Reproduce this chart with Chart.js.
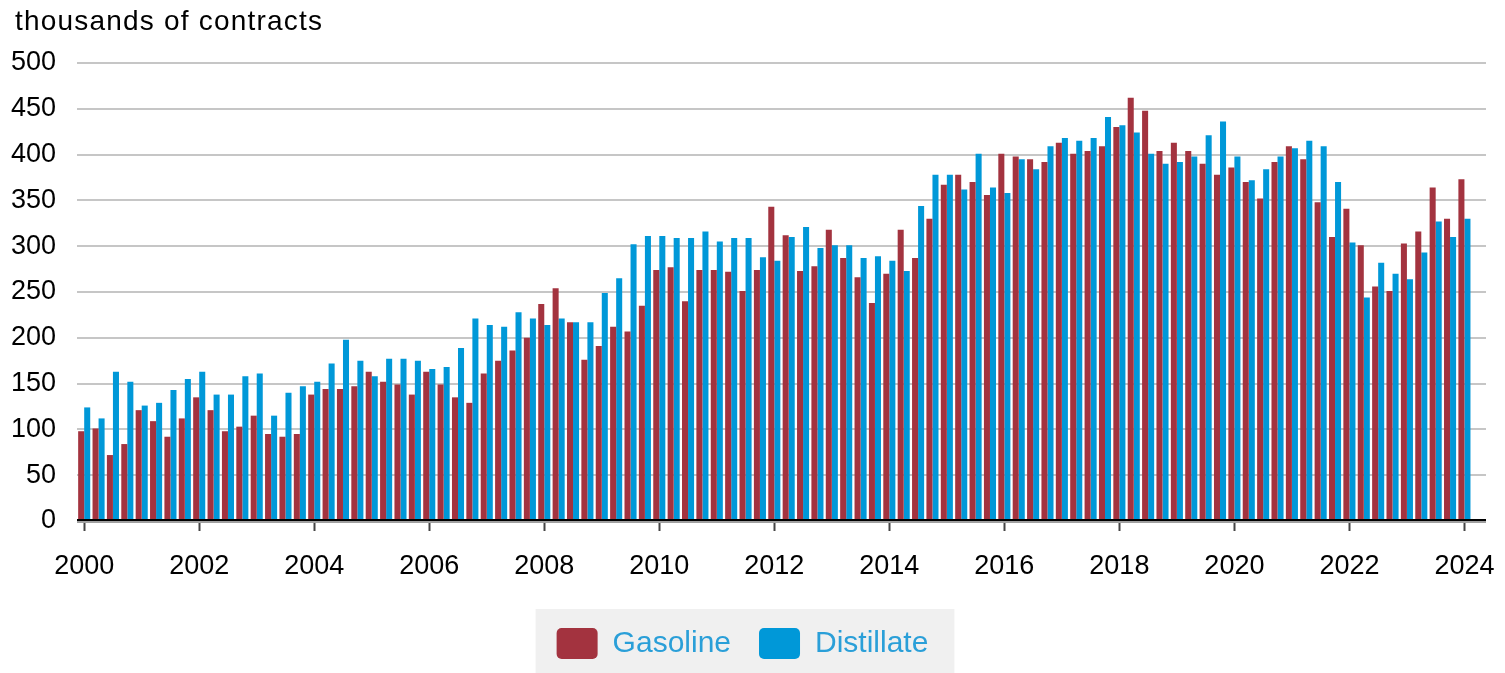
<!DOCTYPE html>
<html>
<head>
<meta charset="utf-8">
<script src="https://cdn.jsdelivr.net/npm/chart.js@4.4.1/dist/chart.umd.min.js"></script>
<style>
  html, body { margin: 0; padding: 0; background: #ffffff; overflow: hidden; }
  #wrap { position: relative; width: 1505px; height: 673px; }
  #title { position: absolute; left: 15px; top: 7px; font-family: "Liberation Sans", Arial, sans-serif; font-size: 28px; line-height: 28px; letter-spacing: 1.2px; color: #000; white-space: nowrap; }
  canvas { position: absolute; left: 0; top: 0; }
</style>
</head>
<body>
<div id="wrap">
  <canvas id="c" width="1505" height="673"></canvas>
  <div id="title">thousands of contracts</div>
</div>
<script>
// ---- data (quarterly, 2000 Q1 .. 2024 Q1; 2024 Q2 left empty) ----
const years = [2000,2001,2002,2003,2004,2005,2006,2007,2008,2009,2010,2011,2012,2013,2014,2015,2016,2017,2018,2019,2020,2021,2022,2023,2024];
const quarters = ['Q1','Q2','Q3','Q4'];

const gasoline = [
  98, 101, 72, 84,
  121, 109, 92, 112,
  135, 121, 98, 103,
  115, 95, 92, 95,
  138, 144, 144, 147,
  163, 152, 149, 138,
  163, 149, 135, 129,
  161, 175, 186, 200,
  237, 254, 217, 176,
  191, 212, 207, 235,
  274, 277, 240, 274,
  274, 272, 251, 274,
  343, 312, 273, 278,
  318, 287, 266, 238,
  270, 318, 287, 330,
  367, 378, 370, 356,
  401, 398, 395, 392,
  413, 401, 404, 409,
  430, 462, 448, 404,
  413, 404, 390, 378,
  386, 370, 352, 392,
  409, 395, 348, 310,
  341, 301, 256, 251,
  303, 316, 364, 330,
  373, null
];

const distillate = [
  124, 112, 163, 152,
  126, 129, 143, 155,
  163, 138, 138, 158,
  161, 115, 140, 147,
  152, 172, 198, 175,
  158, 177, 177, 175,
  166, 168, 189, 221,
  214, 212, 228, 221,
  214, 221, 217, 217,
  249, 265, 302, 311,
  311, 309, 309, 316,
  305, 309, 309, 288,
  284, 310, 321, 298,
  301, 301, 287, 289,
  284, 273, 344, 378,
  378, 362, 401, 364,
  358, 395, 384, 409,
  418, 415, 418, 441,
  432, 424, 401, 390,
  392, 398, 421, 436,
  398, 372, 384, 398,
  407, 415, 409, 370,
  304, 244, 282, 270,
  264, 293, 327, 310,
  330, null
];

const categories = [];
years.forEach(y => quarters.forEach(q => categories.push(y + ' ' + q)));
categories.length = gasoline.length;

const yTicks = [0, 50, 100, 150, 200, 250, 300, 350, 400, 450, 500];
const xTickYears = [2000,2002,2004,2006,2008,2010,2012,2014,2016,2018,2020,2022,2024];

const FONT = '"Liberation Sans", Arial, sans-serif';
const RED = '#a3333f';
const BLUE = '#0098d8';

function isYearTick(i) {
  const lab = categories[i];
  if (!lab || !lab.endsWith('Q1')) return false;
  return xTickYears.includes(parseInt(lab, 10));
}

const legendShift = {
  id: 'legendShift',
  afterLayout(chart) {
    const lg = chart.legend;
    if (lg) { lg.left -= 6; lg.right -= 6; }
  }
};

const legendBg = {
  id: 'legendBg',
  beforeDraw(chart) {
    const lg = chart.legend;
    if (!lg || !lg.legendHitBoxes || !lg.legendHitBoxes.length) return;
    const hb = lg.legendHitBoxes;
    const first = hb[0], last = hb[hb.length - 1];
    const left = first.left - 21;
    const right = last.left + last.width + 26;
    const top = first.top - 19;
    const ctx = chart.ctx;
    ctx.save();
    ctx.fillStyle = '#f0f0f0';
    ctx.fillRect(left, top, right - left, chart.height - top);
    ctx.restore();
  }
};

const zeroLine = {
  id: 'zeroLine',
  afterDatasetsDraw(chart) {
    const y0 = chart.scales.y.getPixelForValue(0);
    const a = chart.chartArea;
    const ctx = chart.ctx;
    ctx.save();
    ctx.fillStyle = '#a0a0a0';
    ctx.fillRect(a.left, y0, a.right - a.left, 2);
    ctx.fillStyle = '#000000';
    ctx.fillRect(a.left, y0 - 2, a.right - a.left, 2);
    ctx.restore();
  }
};

new Chart(document.getElementById('c'), {
  type: 'bar',
  data: {
    labels: categories,
    datasets: [
      { label: 'Gasoline', data: gasoline, backgroundColor: RED, borderWidth: 0 },
      { label: 'Distillate', data: distillate, backgroundColor: BLUE, borderWidth: 0 }
    ]
  },
  options: {
    responsive: false,
    animation: false,
    devicePixelRatio: 1,
    layout: { padding: { left: 11, right: 19, top: 63, bottom: 4 } },
    datasets: { bar: { categoryPercentage: 0.84, barPercentage: 1.0 } },
    scales: {
      x: {
        offset: true,
        afterFit: s => { s.paddingLeft = 0; s.height -= 1.4; },
        grid: {
          offset: false,
          drawOnChartArea: false,
          drawTicks: true,
          tickLength: 10,
          tickWidth: 2,
          tickColor: ctx => isYearTick(ctx.index) ? '#444444' : 'rgba(0,0,0,0)'
        },
        border: { display: false },
        ticks: {
          autoSkip: false,
          maxRotation: 0,
          minRotation: 0,
          padding: 19,
          color: '#000',
          font: { family: FONT, size: 27 },
          callback: (v, i) => isYearTick(i) ? String(parseInt(categories[i], 10)) : ''
        }
      },
      y: {
        min: 0,
        max: 500,
        afterBuildTicks: scale => { scale.ticks = yTicks.map(v => ({ value: v })); },
        afterFit: s => { s.width = 66; },
        grid: {
          drawTicks: false,
          lineWidth: 2,
          color: ctx => (ctx.tick && ctx.tick.value === 0) ? 'rgba(0,0,0,0)' : '#c6c6c6'
        },
        border: { display: false },
        ticks: {
          padding: 21,
          color: '#000',
          font: { family: FONT, size: 27 }
        }
      }
    },
    plugins: {
      title: { display: false },
      tooltip: { enabled: false },
      legend: {
        position: 'bottom',
        labels: {
          boxWidth: 41,
          boxHeight: 31,
          useBorderRadius: true,
          borderRadius: 5,
          padding: 28,
          color: '#2a9fd8',
          font: { family: FONT, size: 30 }
        }
      }
    }
  },
  plugins: [legendShift, legendBg, zeroLine]
});
</script>
</body>
</html>
